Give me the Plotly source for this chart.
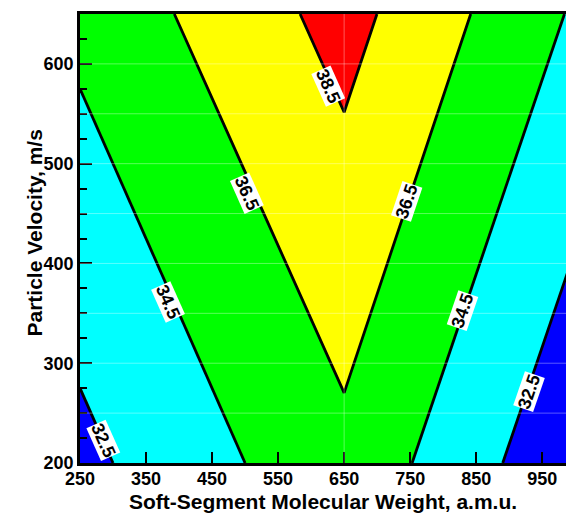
import plotly.graph_objects as go

# Grid of values (response surface)
x_mw = [250, 650, 1000]
y_vel = [200, 650]
z_val = [
    [32.0, 36.0, 30.9],    # y = 200
    [35.0, 39.2, 34.27],   # y = 650
]

levels_start, levels_end, levels_step = 32.5, 38.5, 2.0

# contour label annotations: text, x, y, angle
label_text = ["32.5", "34.5", "36.5", "38.5", "36.5", "34.5", "32.5"]
label_x = [285, 383, 503, 626, 744, 830, 930]
label_y = [223, 361, 471, 578, 462, 353, 271]
label_ang = [66, 66, 66, 66, -71.5, -71.2, -71]

x_ticks = [250, 350, 450, 550, 650, 750, 850, 950]
y_ticks = [200, 300, 400, 500, 600]

font_fam = "Liberation Sans, Arial, sans-serif"

fig = go.Figure()
fig.add_trace(go.Contour(
    x=x_mw, y=y_vel, z=z_val,
    contours=dict(start=levels_start, end=levels_end, size=levels_step,
                  coloring="fill", showlabels=False),
    colorscale=[[0, "#0000FF"], [0.25, "#00FFFF"], [0.5, "#00FF00"],
                [0.75, "#FFFF00"], [1, "#FF0000"]],
    line=dict(color="black", width=2.8, smoothing=0),
    showscale=False, hoverinfo="skip",
))

shapes = []
for gy in range(250, 650, 50):
    shapes.append(dict(type="line", xref="paper", yref="y", x0=0, x1=1, y0=gy, y1=gy,
                       line=dict(color="rgba(255,255,255,0.35)", width=1), layer="above"))
shapes.append(dict(type="line", xref="x", yref="paper", x0=650, x1=650, y0=0, y1=1,
                   line=dict(color="rgba(255,255,255,0.35)", width=1), layer="above"))

annotations = []
for t, ax_, ay_, ang in zip(label_text, label_x, label_y, label_ang):
    annotations.append(dict(x=ax_, y=ay_, xref="x", yref="y", text="<b>%s</b>" % t,
                            showarrow=False, textangle=ang, bgcolor="white",
                            borderpad=0, font=dict(family=font_fam, size=18, color="black")))

# y-axis title as a rotated annotation (paper fractions of the 486x449 plot area)
annotations.append(dict(x=-(80 - 20) / 486.0, y=(515 - 52 - 233) / 449.0,
                        xref="paper", yref="paper", text="<b>Particle Velocity, m/s</b>",
                        showarrow=False, textangle=-90,
                        font=dict(family=font_fam, size=21, color="black")))

fig.update_layout(
    width=566, height=515,
    margin=dict(l=80, r=0, t=14, b=52),
    paper_bgcolor="white", plot_bgcolor="white",
    shapes=shapes, annotations=annotations,
    showlegend=False,
    xaxis=dict(range=[250, 986], tickvals=x_ticks, ticktext=["<b>%d</b>" % v for v in x_ticks],
               ticks="inside", ticklen=11, tickwidth=2, tickcolor="black",
               ticklabelstandoff=-2,
               showline=True, linecolor="black", linewidth=2.5, mirror=True,
               showgrid=False, zeroline=False,
               tickfont=dict(family=font_fam, size=18, color="black"),
               title=dict(text="<b>Soft-Segment Molecular Weight, a.m.u.</b>", standoff=6,
                          font=dict(family=font_fam, size=21, color="black"))),
    yaxis=dict(range=[200, 650], tickvals=y_ticks, ticktext=["<b>%d</b>" % v for v in y_ticks],
               ticks="inside", ticklen=12, tickwidth=2, tickcolor="black",
               minor=dict(dtick=25, ticks="inside", ticklen=7, tickwidth=1.5, tickcolor="black"),
               showline=True, linecolor="black", linewidth=2.5,
               showgrid=False, zeroline=False,
               tickfont=dict(family=font_fam, size=18, color="black")),
)

fig.write_html("out.html")
